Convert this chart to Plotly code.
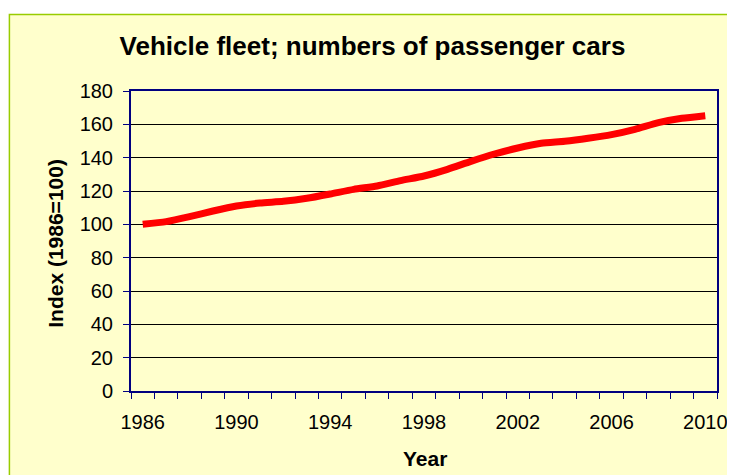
import plotly.graph_objects as go

years = list(range(1986, 2011))
index_values = [100, 101.6, 104.6, 108, 111, 112.8, 113.8, 115.6, 118.2, 121,
                123, 126.2, 129, 133, 137.8, 142.2, 145.8, 148.6, 149.8, 151.6,
                153.8, 157, 161, 163.6, 165.2]
x_tick_labels = ["1986", "1990", "1994", "1998", "2002", "2006", "2010"]
x_tick_vals = [1986, 1990, 1994, 1998, 2002, 2006, 2010]
y_ticks = list(range(0, 181, 20))

W, H = 735, 475
OFF = 8  # page body margin offset
# plot area in screenshot pixels
PL, PR, PT, PB = 130.5, 717.5, 90.7, 391.0
L, R, T, B = PL - OFF, PR - OFF, PT - OFF, PB - OFF
pw, ph = R - L, B - T

def px(xpic):
    return (xpic - PL) / pw

def py(ypic):
    return (PB - ypic) / ph

navy = "#000080"
font = "Liberation Sans, Arial, sans-serif"

fig = go.Figure()
fig.add_trace(go.Scatter(
    x=years, y=index_values, mode="lines",
    line=dict(color="#ff0000", width=7, shape="spline", smoothing=0.6),
    hoverinfo="x+y", showlegend=False,
))

fig.add_shape(type="rect", xref="paper", yref="paper",
              x0=px(8.7), x1=px(760), y0=py(500), y1=py(14),
              fillcolor="#ffffcc", line=dict(color="#99cc00", width=1.5),
              layer="below")

fig.update_layout(
    width=W, height=H,
    margin=dict(l=L, r=W - R, t=T, b=H - B, pad=0),
    paper_bgcolor="white", plot_bgcolor="#ffffcc",
    font=dict(family=font, size=20, color="black"),
    title=dict(text="<b>Vehicle fleet; numbers of passenger cars</b>",
               x=(372.5 - OFF) / W, xref="container", xanchor="center",
               y=1 - (46 - OFF) / H, yref="container", yanchor="middle",
               font=dict(size=26, family=font, color="black")),
    xaxis=dict(range=[1985.5, 2010.5], tickvals=x_tick_vals, ticktext=x_tick_labels,
               ticks="", showgrid=False, zeroline=False,
               showline=True, linecolor=navy, linewidth=2, mirror=True,
               ticklabelstandoff=12,
               minor=dict(tickvals=[y + 0.5 for y in range(1985, 2011)],
                          ticks="outside", ticklen=6, tickcolor=navy,
                          tickwidth=1, showgrid=False),
               tickfont=dict(size=20)),
    yaxis=dict(range=[0, 180], tickvals=y_ticks, ticks="outside", ticklen=6,
               tickcolor=navy, tickwidth=1, ticklabelstandoff=6,
               showgrid=True, gridcolor="black", gridwidth=1, zeroline=False,
               showline=True, linecolor=navy, linewidth=2, mirror=True,
               tickfont=dict(size=20)),
    annotations=[
        dict(text="<b>Index (1986=100)</b>", textangle=-90, xref="paper", yref="paper",
             x=px(55), y=py(243), showarrow=False, xanchor="center", yanchor="middle",
             font=dict(size=21, family=font)),
        dict(text="<b>Year</b>", xref="paper", yref="paper",
             x=px(425), y=py(459), showarrow=False, xanchor="center", yanchor="middle",
             font=dict(size=21, family=font)),
    ],
)

fig.write_html("out.html")
